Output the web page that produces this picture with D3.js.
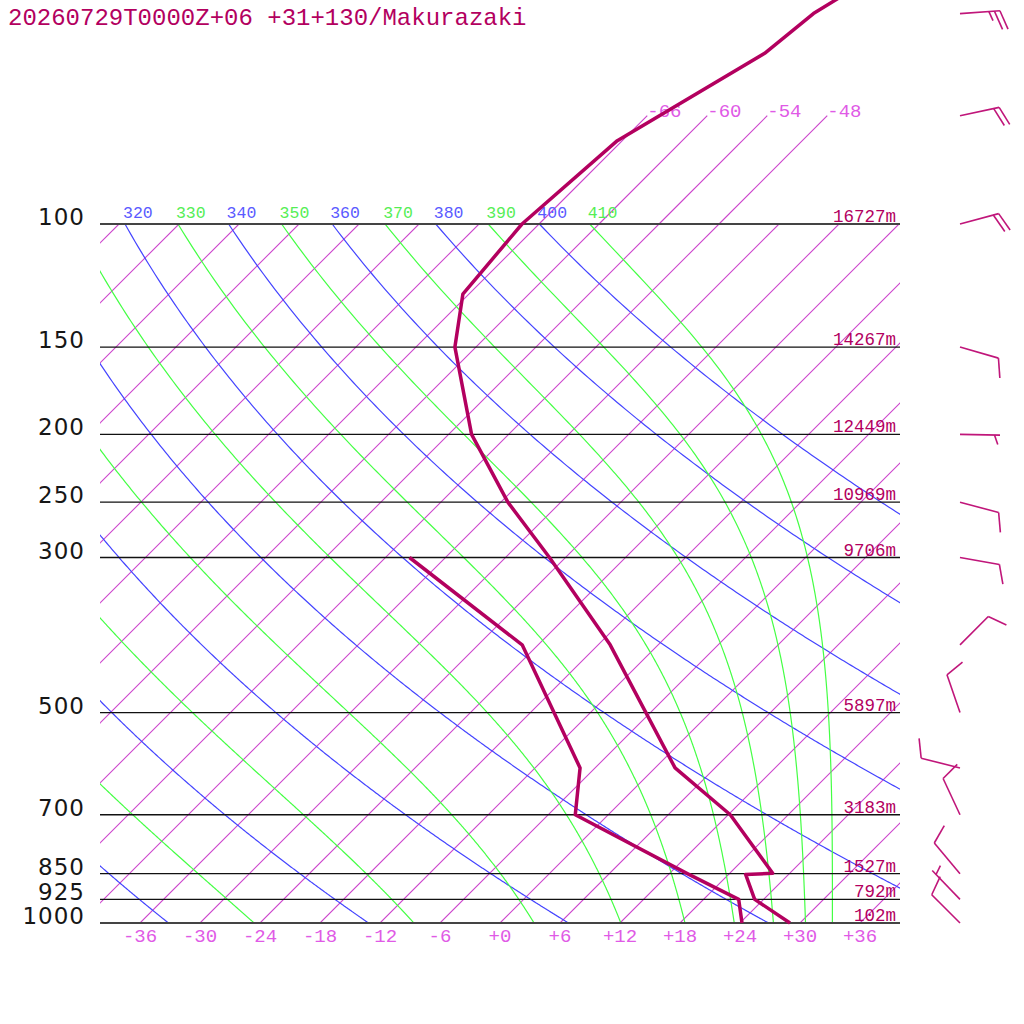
<!DOCTYPE html>
<html>
<head>
<meta charset="utf-8">
<script src="https://cdn.jsdelivr.net/npm/d3@7"></script>
<style>
  body { margin: 0; background: #ffffff; }
  svg { display: block; }
</style>
</head>
<body>
<svg id="chart" width="1024" height="1024"></svg>
<script>
const TITLE = "20260729T0000Z+06 +31+130/Makurazaki";

// Temperature profile (hPa / degC)
const tempPressure = [1000, 925, 852, 849, 700, 600, 400, 300, 250, 200, 150, 126, 100, 76, 57, 50, 45];
const tempValues = [29.0, 23.1, 19.7, 22.3, 12.2, 2.0, -16.8, -31.6, -41.3, -51.7, -62.1, -66.6, -67.7, -66.5, -60.5, -59.6, -57.6];

// Dew point profile (hPa / degC)
const dewPressure = [1000, 925, 850, 700, 600, 400, 300];
const dewValues = [24.2, 21.5, 13.8, -3.3, -7.5, -25.6, -45.6];

// Standard levels and their heights
const levelPressure = [1000, 925, 850, 700, 500, 300, 250, 200, 150, 100];
const levelLabels = ["1000", "925", "850", "700", "500", "300", "250", "200", "150", "100"];
const levelHeights = ["102m", "792m", "1527m", "3183m", "5897m", "9706m", "10969m", "12449m", "14267m", "16727m"];

// Winds (hPa / deg / kt)
const windPressure = [50, 70, 100, 150, 200, 250, 300, 400, 500, 600, 700, 850, 925, 1000];
const windDir = [86, 78, 75, 106, 91, 105, 100, 45, 341, 284, 335, 320, 316, 315];
const windSpeed = [25, 20, 20, 10, 5, 10, 10, 10, 10, 10, 10, 10, 5, 10];

// Tick labels and reference lines
const tempTicks = [-36, -30, -24, -18, -12, -6, 0, 6, 12, 18, 24, 30, 36];
const isotherms = d3.range(-108, 37, 6);
const stratoIsotherms = [-66, -60, -54, -48];
const dryAdiabats = [240, 260, 280, 300, 320, 340, 360, 380, 400];
const moistAdiabats = [250, 270, 290, 310, 330, 350, 370, 390, 410];

class SkewTConstructor {
  CURVE_COLOR = "#b3005f";
  ISO_COLOR = "#cc44cc";
  ISO_TEXT = "#e05ae6";
  DRY_COLOR = "#4444ff";
  MOIST_COLOR = "#44ff44";
  WIND_COLOR = "#c0167a";

  constructor(svg) {
    this.svg = svg;
    // plot box
    this.left = 100;
    this.right = 900;
    this.top = 224;
    this.bottom = 923;
  }

  buildGraph = () => {
    this.initScales();
    this.getIsotherms();
    this.getAdiabats();
    this.getLevels();
    this.getAxisLabels();
    this.getProfiles();
    this.getWinds();
  };

  initScales = () => {
    // log-pressure vertical scale
    this.y = d3.scaleLog().domain([1000, 100]).range([this.bottom, this.top]);
    // temperature scale at 1000 hPa, skewed 45 deg above
    this.x = d3.scaleLinear().domain([-40, 40]).range([this.left, this.right]);
    this.xPos = (t, p) => this.x(t) + (this.bottom - this.y(p));

    this.svg
      .append("clipPath")
      .attr("id", "box")
      .append("rect")
      .attr("x", this.left)
      .attr("y", this.top)
      .attr("width", this.right - this.left)
      .attr("height", this.bottom - this.top);

    this.line = d3
      .line()
      .x((d) => this.xPos(d.t, d.p))
      .y((d) => this.y(d.p));

    // pressure samples for curved lines
    this.samples = d3.range(100, 1001, 2);
  };

  getIsotherms = () => {
    const g = this.svg.append("g").attr("clip-path", "url(#box)");
    g.selectAll("path")
      .data(isotherms)
      .enter()
      .append("path")
      .attr("d", (t) => this.line([{ t, p: 1000 }, { t, p: 100 }]))
      .attr("stroke", this.ISO_COLOR)
      .attr("stroke-width", 1.1)
      .attr("fill", "none");

    // isotherms continued above 100 hPa
    const up = this.svg.append("g");
    up.selectAll("path")
      .data(stratoIsotherms)
      .enter()
      .append("path")
      .attr("d", (t) => this.line([{ t, p: 100 }, { t, p: 70 }]))
      .attr("stroke", this.ISO_COLOR)
      .attr("stroke-width", 1.1)
      .attr("fill", "none");
    up.selectAll("text")
      .data(stratoIsotherms)
      .enter()
      .append("text")
      .text((t) => `${t}`)
      .attr("x", (t) => this.xPos(t, 70))
      .attr("y", this.y(70) + 1)
      .attr("font-family", "Liberation Mono, monospace")
      .attr("font-size", 19)
      .attr("fill", this.ISO_TEXT);
  };

  getAdiabats = () => {
    const g = this.svg.append("g").attr("clip-path", "url(#box)");

    // dry adiabats
    g.selectAll(".dry")
      .data(dryAdiabats)
      .enter()
      .append("path")
      .attr("class", "dry")
      .attr("d", (th) =>
        this.line(this.samples.map((p) => ({ p, t: th * Math.pow(p / 1000, 0.2857) - 273.15 })))
      )
      .attr("stroke", this.DRY_COLOR)
      .attr("stroke-width", 1.2)
      .attr("fill", "none");

    // saturated pseudo-adiabats (theta-e, Bolton)
    g.selectAll(".moist")
      .data(moistAdiabats)
      .enter()
      .append("path")
      .attr("class", "moist")
      .attr("d", (te) => this.line(this.samples.map((p) => ({ p, t: moistT(te, p) }))))
      .attr("stroke", this.MOIST_COLOR)
      .attr("stroke-width", 1.2)
      .attr("fill", "none");

    // labels on the 100 hPa line, only where they fall inside the box
    const labels = dryAdiabats
      .map((th) => ({ th, t: th * Math.pow(0.1, 0.2857) - 273.15, c: "#5a5aff" }))
      .concat(moistAdiabats.map((th) => ({ th, t: moistT(th, 100), c: "#55ee55" })))
      .filter((d) => this.xPos(d.t, 100) > this.left + 10);
    this.svg
      .append("g")
      .selectAll("text")
      .data(labels)
      .enter()
      .append("text")
      .text((d) => d.th)
      .attr("x", (d) => this.xPos(d.t, 100) - 2)
      .attr("y", this.top - 6)
      .attr("font-family", "Liberation Mono, monospace")
      .attr("font-size", 16.5)
      .attr("fill", (d) => d.c);
  };

  getLevels = () => {
    const g = this.svg.append("g");
    g.selectAll("line")
      .data(levelPressure)
      .enter()
      .append("line")
      .attr("x1", this.left)
      .attr("x2", this.right)
      .attr("y1", (p) => this.y(p))
      .attr("y2", (p) => this.y(p))
      .attr("stroke", (p) => (p === 1000 || p === 100 ? "#444" : "#111"))
      .attr("stroke-width", (p) => (p === 1000 || p === 100 ? 1.8 : 1.4));

    // pressure labels
    g.selectAll(".plabel")
      .data(levelPressure)
      .enter()
      .append("text")
      .attr("class", "plabel")
      .text((p, i) => levelLabels[i])
      .attr("x", 85)
      .attr("y", (p) => this.y(p) + 1)
      .attr("text-anchor", "end")
      .attr("font-family", "DejaVu Sans, sans-serif")
      .attr("font-size", 23)
      .attr("letter-spacing", 1)
      .attr("fill", "#161616");

    // heights
    g.selectAll(".hlabel")
      .data(levelPressure)
      .enter()
      .append("text")
      .attr("class", "hlabel")
      .text((p, i) => levelHeights[i])
      .attr("x", 896)
      .attr("y", (p) => this.y(p) - 2)
      .attr("text-anchor", "end")
      .attr("font-family", "Liberation Mono, monospace")
      .attr("font-size", 17.5)
      .attr("fill", this.CURVE_COLOR);
  };

  getAxisLabels = () => {
    this.svg
      .append("text")
      .text(TITLE)
      .attr("x", 8)
      .attr("y", 25)
      .attr("font-family", "Liberation Mono, monospace")
      .attr("font-size", 24)
      .attr("fill", this.CURVE_COLOR);

    this.svg
      .append("g")
      .selectAll("text")
      .data(tempTicks)
      .enter()
      .append("text")
      .text((t) => (t >= 0 ? `+${t}` : `${t}`))
      .attr("x", (t) => this.x(t))
      .attr("y", this.bottom + 19)
      .attr("text-anchor", "middle")
      .attr("font-family", "Liberation Mono, monospace")
      .attr("font-size", 19)
      .attr("fill", this.ISO_TEXT);
  };

  getProfiles = () => {
    const temp = tempPressure.map((p, i) => ({ p, t: tempValues[i] }));
    const dew = dewPressure.map((p, i) => ({ p, t: dewValues[i] }));
    [temp, dew].forEach((data) => {
      this.svg
        .append("path")
        .attr("d", this.line(data))
        .attr("stroke", this.CURVE_COLOR)
        .attr("stroke-width", 3.5)
        .attr("stroke-linejoin", "round")
        .attr("fill", "none");
    });
  };

  getWinds = () => {
    const g = this.svg.append("g");
    const stationX = 960;
    const staff = 40;
    const rot = (70 * Math.PI) / 180;
    windPressure.forEach((p, i) => {
      const a = (windDir[i] * Math.PI) / 180;
      const dx = Math.sin(a);
      const dy = -Math.cos(a);
      const sy = this.y(p);
      const tx = stationX + dx * staff;
      const ty = sy + dy * staff;
      // barb direction: staff turned clockwise
      const bx = dx * Math.cos(rot) - dy * Math.sin(rot);
      const by = dx * Math.sin(rot) + dy * Math.cos(rot);
      const segs = [[stationX, sy, tx, ty]];
      const full = Math.floor(windSpeed[i] / 10);
      const half = windSpeed[i] % 10 >= 5 ? 1 : 0;
      let pos = full === 0 && half ? 1 : 0;
      for (let k = 0; k < full; k++, pos++) {
        const x0 = tx - dx * 5.5 * pos;
        const y0 = ty - dy * 5.5 * pos;
        segs.push([x0, y0, x0 + bx * 20, y0 + by * 20]);
      }
      if (half) {
        const x0 = tx - dx * 5.5 * pos;
        const y0 = ty - dy * 5.5 * pos;
        segs.push([x0, y0, x0 + bx * 10, y0 + by * 10]);
      }
      g.selectAll(null)
        .data(segs)
        .enter()
        .append("line")
        .attr("x1", (s) => s[0])
        .attr("y1", (s) => s[1])
        .attr("x2", (s) => s[2])
        .attr("y2", (s) => s[3])
        .attr("stroke", this.WIND_COLOR)
        .attr("stroke-width", 1.6);
    });
  };
}

// saturation vapour pressure (hPa)
function esat(tc) {
  return 6.112 * Math.exp((17.67 * tc) / (tc + 243.5));
}

// equivalent potential temperature of saturated air
function thetaE(tk, p) {
  const e = esat(tk - 273.15);
  if (e > 0.5 * p) return 1e6;
  const r = (622 * e) / (p - e);
  return (
    tk *
    Math.pow(1000 / p, 0.2854 * (1 - 0.00028 * r)) *
    Math.exp((3.376 / tk - 0.00254) * r * (1 + 0.00081 * r))
  );
}

// temperature on a pseudo-adiabat at pressure p
function moistT(te, p) {
  let lo = 150;
  let hi = 340;
  for (let i = 0; i < 50; i++) {
    const mid = (lo + hi) / 2;
    if (thetaE(mid, p) < te) lo = mid;
    else hi = mid;
  }
  return (lo + hi) / 2 - 273.15;
}

const chart = new SkewTConstructor(d3.select("#chart"));
chart.buildGraph();
</script>
</body>
</html>
